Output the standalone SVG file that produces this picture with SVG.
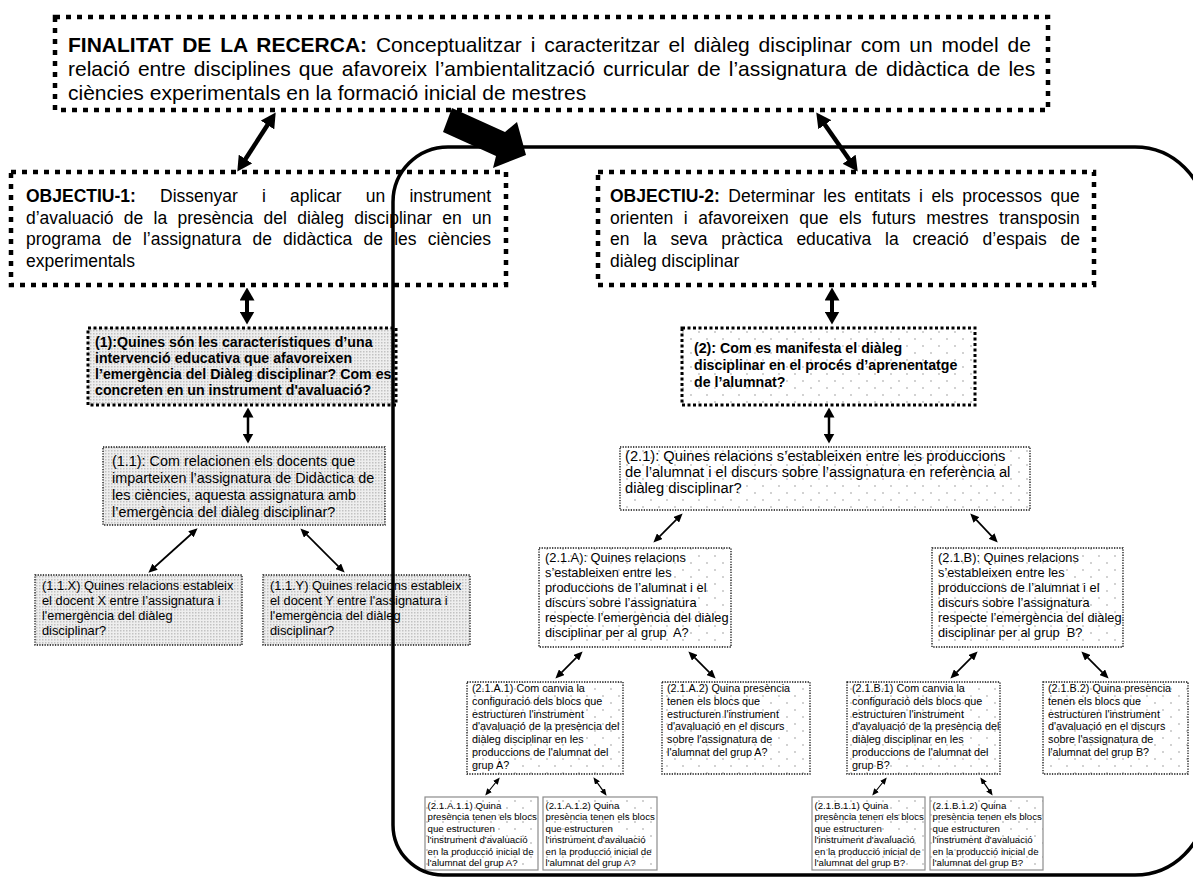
<svg xmlns="http://www.w3.org/2000/svg" width="1193" height="879" viewBox="0 0 1193 879">
<defs>
<style>
.tx{font-family:"Liberation Sans",Arial,sans-serif;fill:#000}
.b{font-weight:bold}
.f21{font-size:21px}
.f17{font-size:17.5px}
.f14b{font-size:14.2px;font-weight:bold}
.f14{font-size:14.4px}
.f147{font-size:14.7px}
.f13{font-size:12.8px}
.f11{font-size:10.8px}
.f10{font-size:9.7px}
.n-thick{fill:#fff;stroke:#000;stroke-width:4.5;stroke-dasharray:5 6}
.n-mid{stroke:#000;stroke-width:3;stroke-dasharray:3 2.5}
.n-thin{stroke:#111;stroke-width:1.3;stroke-dasharray:1.3 1.3}
.n-solid{stroke:#8c8c8c;stroke-width:1.2}
.gray{fill:url(#pGray)}
.dots{fill:url(#pDots)}
.c{fill:none;stroke:#000}
.cA{stroke-width:4.5;marker-start:url(#hA);marker-end:url(#hA)}
.cB{stroke-width:4;marker-start:url(#hB);marker-end:url(#hB)}
.cC{stroke-width:2.5;marker-start:url(#hC);marker-end:url(#hC)}
.cD{stroke-width:1.7;marker-start:url(#hD);marker-end:url(#hD)}
.cE{stroke-width:1.2;marker-start:url(#hE);marker-end:url(#hE)}
</style>
<pattern id="pGray" width="3" height="3" patternUnits="userSpaceOnUse"><rect width="3" height="3" fill="#eeeeee"/><rect width="1.5" height="1.5" fill="#c2c2c2"/></pattern>
<pattern id="pDots" width="16" height="14" patternUnits="userSpaceOnUse"><rect width="16" height="14" fill="#fff"/><circle cx="3" cy="3" r="0.9" fill="#bdbdbd"/><circle cx="11" cy="10" r="0.9" fill="#bdbdbd"/></pattern>
<marker id="hA" viewBox="0 0 15 16" refX="0.5" refY="8" markerWidth="15" markerHeight="16" markerUnits="userSpaceOnUse" orient="auto-start-reverse"><path d="M0,0 L15,8 L0,16 z"/></marker>
<marker id="hB" viewBox="0 0 13 15" refX="0.5" refY="7.5" markerWidth="13" markerHeight="15" markerUnits="userSpaceOnUse" orient="auto-start-reverse"><path d="M0,0 L13,7.5 L0,15 z"/></marker>
<marker id="hC" viewBox="0 0 10 11" refX="0.5" refY="5.5" markerWidth="10" markerHeight="11" markerUnits="userSpaceOnUse" orient="auto-start-reverse"><path d="M0,0 L10,5.5 L0,11 z"/></marker>
<marker id="hD" viewBox="0 0 9 8" refX="0.5" refY="4" markerWidth="9" markerHeight="8" markerUnits="userSpaceOnUse" orient="auto-start-reverse"><path d="M0,0 L9,4 L0,8 z"/></marker>
<marker id="hE" viewBox="0 0 7 6" refX="0.5" refY="3" markerWidth="7" markerHeight="6" markerUnits="userSpaceOnUse" orient="auto-start-reverse"><path d="M0,0 L7,3 L0,6 z"/></marker>
</defs>
<rect width="1193" height="879" fill="#fff"/>

<!-- research aim -->
<g id="n-finalitat">
<rect class="n-thick" x="55" y="17" width="993" height="93"/>
<text class="tx f21" x="68" y="52" word-spacing="3"><tspan class="b">FINALITAT DE LA RECERCA:</tspan> Conceptualitzar i caracteritzar el diàleg disciplinar com un model de</text>
<text class="tx f21" x="68" y="76" word-spacing="2.2">relació entre disciplines que afavoreix l’ambientalització curricular de l’assignatura de didàctica de les</text>
<text class="tx f21" x="68" y="100">ciències experimentals en la formació inicial de mestres</text>
</g>

<!-- objective 1 -->
<g id="n-objectiu-1">
<rect class="n-thick" x="11" y="172" width="495" height="113"/>
<text class="tx f17" x="26" y="202" word-spacing="19.3"><tspan class="b">OBJECTIU-1:</tspan> Dissenyar i aplicar un instrument</text>
<text class="tx f17" x="26" y="223.5" word-spacing="5.4">d’avaluació de la presència del diàleg disciplinar en un</text>
<text class="tx f17" x="26" y="245" word-spacing="6.4">programa de l’assignatura de didàctica de les ciències</text>
<text class="tx f17" x="26" y="266.5">experimentals</text>
</g>

<!-- objective 2 -->
<g id="n-objectiu-2">
<rect class="n-thick" x="598" y="172" width="496" height="113"/>
<text class="tx f17" x="610" y="202" word-spacing="3.6"><tspan class="b">OBJECTIU-2:</tspan> Determinar les entitats i els processos que</text>
<text class="tx f17" x="610" y="223.5" word-spacing="5.7">orienten i afavoreixen que els futurs mestres transposin</text>
<text class="tx f17" x="610" y="245" word-spacing="8.9">en la seva pràctica educativa la creació d’espais de</text>
<text class="tx f17" x="610" y="266.5">diàleg disciplinar</text>
</g>

<!-- question 1 branch -->
<g id="n-q1">
<rect class="gray n-mid" x="88" y="328" width="308" height="77"/>
<text class="tx f14b"><tspan x="95" y="347">(1):Quines són les característiques d’una</tspan><tspan x="95" y="363">intervenció educativa que afavoreixen</tspan><tspan x="95" y="379">l’emergència del Diàleg disciplinar? Com es</tspan><tspan x="95" y="395">concreten en un instrument d'avaluació?</tspan></text>
</g>
<g id="n-q1-1">
<rect class="gray n-thin" x="103" y="447" width="282" height="78"/>
<text class="tx f14"><tspan x="112" y="466">(1.1): Com relacionen els docents que</tspan><tspan x="112" y="483">imparteixen l’assignatura de Didàctica de</tspan><tspan x="112" y="500">les ciències, aquesta assignatura amb</tspan><tspan x="112" y="517">l’emergència del diàleg disciplinar?</tspan></text>
</g>
<g id="n-q1-1-x">
<rect class="gray n-thin" x="35" y="575" width="207" height="70"/>
<text class="tx f13"><tspan x="42" y="589.5">(1.1.X) Quines relacions estableix</tspan><tspan x="42" y="604.5">el docent X entre l’assignatura i</tspan><tspan x="42" y="619.5">l'emergència del diàleg</tspan><tspan x="42" y="634.5">disciplinar?</tspan></text>
</g>
<g id="n-q1-1-y">
<rect class="gray n-thin" x="263" y="575" width="207" height="70"/>
<text class="tx f13"><tspan x="270" y="589.5">(1.1.Y) Quines relacions estableix</tspan><tspan x="270" y="604.5">el docent Y entre l'assignatura i</tspan><tspan x="270" y="619.5">l'emergència del diàleg</tspan><tspan x="270" y="634.5">disciplinar?</tspan></text>
</g>

<!-- question 2 branch -->
<g id="n-q2">
<rect class="dots n-mid" x="682" y="328" width="293" height="77"/>
<text class="tx f14b"><tspan x="694" y="353">(2): Com es manifesta el diàleg</tspan><tspan x="694" y="370">disciplinar en el procés d’aprenentatge</tspan><tspan x="694" y="387">de l’alumnat?</tspan></text>
</g>
<g id="n-q2-1">
<rect class="dots n-thin" x="620" y="447" width="410" height="63"/>
<text class="tx f147"><tspan x="625" y="461">(2.1): Quines relacions s’estableixen entre les produccions</tspan><tspan x="625" y="477">de l’alumnat i el discurs sobre l’assignatura en referència al</tspan><tspan x="625" y="493">diàleg disciplinar?</tspan></text>
</g>
<g id="n-q2-1-a">
<rect class="dots n-thin" x="539" y="548" width="192" height="99"/>
<text class="tx f13"><tspan x="545" y="562">(2.1.A): Quines relacions</tspan><tspan x="545" y="577">s’estableixen entre les</tspan><tspan x="545" y="592">produccions de l’alumnat i el</tspan><tspan x="545" y="607">discurs sobre l’assignatura</tspan><tspan x="545" y="622">respecte l’emergència del diàleg</tspan><tspan x="545" y="637">disciplinar per al grup&#160; A?</tspan></text>
</g>
<g id="n-q2-1-b">
<rect class="dots n-thin" x="932" y="548" width="191" height="99"/>
<text class="tx f13"><tspan x="938" y="562">(2.1.B): Quines relacions</tspan><tspan x="938" y="577">s’estableixen entre les</tspan><tspan x="938" y="592">produccions de l’alumnat i el</tspan><tspan x="938" y="607">discurs sobre l’assignatura</tspan><tspan x="938" y="622">respecte l’emergència del diàleg</tspan><tspan x="938" y="637">disciplinar per al grup&#160; B?</tspan></text>
</g>
<g id="n-q2-1-a-1">
<rect class="dots n-thin" x="467" y="682" width="156" height="92"/>
<text class="tx f11"><tspan x="472" y="692">(2.1.A.1) Com canvia la</tspan><tspan x="472" y="704.8">configuració dels blocs que</tspan><tspan x="472" y="717.6">estructuren l'instrument</tspan><tspan x="472" y="730.4">d'avaluació de la presència del</tspan><tspan x="472" y="743.2">diàleg disciplinar en les</tspan><tspan x="472" y="756">produccions de l'alumnat del</tspan><tspan x="472" y="768.8">grup A?</tspan></text>
</g>
<g id="n-q2-1-a-2">
<rect class="dots n-thin" x="662" y="682" width="148" height="92"/>
<text class="tx f11"><tspan x="667" y="692">(2.1.A.2) Quina presència</tspan><tspan x="667" y="704.8">tenen els blocs que</tspan><tspan x="667" y="717.6">estructuren l'instrument</tspan><tspan x="667" y="730.4">d'avaluació en el discurs</tspan><tspan x="667" y="743.2">sobre l'assignatura de</tspan><tspan x="667" y="756">l'alumnat del grup A?</tspan></text>
</g>
<g id="n-q2-1-b-1">
<rect class="dots n-thin" x="847" y="682" width="153" height="92"/>
<text class="tx f11"><tspan x="852" y="692">(2.1.B.1) Com canvia la</tspan><tspan x="852" y="704.8">configuració dels blocs que</tspan><tspan x="852" y="717.6">estructuren l'instrument</tspan><tspan x="852" y="730.4">d'avaluació de la presència del</tspan><tspan x="852" y="743.2">diàleg disciplinar en les</tspan><tspan x="852" y="756">produccions de l'alumnat del</tspan><tspan x="852" y="768.8">grup B?</tspan></text>
</g>
<g id="n-q2-1-b-2">
<rect class="dots n-thin" x="1043" y="682" width="145" height="92"/>
<text class="tx f11"><tspan x="1048" y="692">(2.1.B.2) Quina presència</tspan><tspan x="1048" y="704.8">tenen els blocs que</tspan><tspan x="1048" y="717.6">estructuren l'instrument</tspan><tspan x="1048" y="730.4">d'avaluació en el discurs</tspan><tspan x="1048" y="743.2">sobre l'assignatura de</tspan><tspan x="1048" y="756">l'alumnat del grup B?</tspan></text>
</g>
<g id="n-q2-1-a-1-1">
<rect class="dots n-solid" x="425" y="797" width="113" height="73"/>
<text class="tx f10"><tspan x="427.5" y="808.5">(2.1.A.1.1) Quina</tspan><tspan x="427.5" y="820">presència tenen els blocs</tspan><tspan x="427.5" y="831.5">que estructuren</tspan><tspan x="427.5" y="843">l'instrument d'avaluació</tspan><tspan x="427.5" y="854.5">en la producció inicial de</tspan><tspan x="427.5" y="866">l'alumnat del grup A?</tspan></text>
</g>
<g id="n-q2-1-a-1-2">
<rect class="dots n-solid" x="543" y="797" width="114" height="73"/>
<text class="tx f10"><tspan x="545.5" y="808.5">(2.1.A.1.2) Quina</tspan><tspan x="545.5" y="820">presència tenen els blocs</tspan><tspan x="545.5" y="831.5">que estructuren</tspan><tspan x="545.5" y="843">l'instrument d'avaluació</tspan><tspan x="545.5" y="854.5">en la producció inicial de</tspan><tspan x="545.5" y="866">l'alumnat del grup A?</tspan></text>
</g>
<g id="n-q2-1-b-1-1">
<rect class="dots n-solid" x="812" y="797" width="113" height="73"/>
<text class="tx f10"><tspan x="814.5" y="808.5">(2.1.B.1.1) Quina</tspan><tspan x="814.5" y="820">presència tenen els blocs</tspan><tspan x="814.5" y="831.5">que estructuren</tspan><tspan x="814.5" y="843">l'instrument d'avaluació</tspan><tspan x="814.5" y="854.5">en la producció inicial de</tspan><tspan x="814.5" y="866">l'alumnat del grup B?</tspan></text>
</g>
<g id="n-q2-1-b-1-2">
<rect class="dots n-solid" x="930" y="797" width="113" height="73"/>
<text class="tx f10"><tspan x="932.5" y="808.5">(2.1.B.1.2) Quina</tspan><tspan x="932.5" y="820">presència tenen els blocs</tspan><tspan x="932.5" y="831.5">que estructuren</tspan><tspan x="932.5" y="843">l'instrument d'avaluació</tspan><tspan x="932.5" y="854.5">en la producció inicial de</tspan><tspan x="932.5" y="866">l'alumnat del grup B?</tspan></text>
</g>

<!-- two-way links -->
<g id="connectors">
<line class="c cA" x1="267.8" y1="124.6" x2="245.2" y2="159.4"/>
<line class="c cA" x1="824.6" y1="124.3" x2="849.4" y2="159.7"/>
<line class="c cB" x1="247" y1="300" x2="247" y2="312"/>
<line class="c cB" x1="832" y1="300" x2="832" y2="312"/>
<line class="c cC" x1="248" y1="417" x2="248" y2="434"/>
<line class="c cC" x1="829" y1="417" x2="829" y2="434"/>
<line class="c cD" x1="191.3" y1="534.0" x2="154.7" y2="567.0"/>
<line class="c cD" x1="306.4" y1="534.4" x2="338.6" y2="566.6"/>
<line class="c cD" x1="676.6" y1="519.4" x2="659.4" y2="536.6"/>
<line class="c cD" x1="976.1" y1="519.6" x2="991.9" y2="536.4"/>
<line class="c cD" x1="576.6" y1="657.4" x2="561.4" y2="672.6"/>
<line class="c cD" x1="694.4" y1="657.4" x2="709.6" y2="672.6"/>
<line class="c cD" x1="971.6" y1="657.4" x2="956.4" y2="672.6"/>
<line class="c cD" x1="1087.4" y1="657.4" x2="1102.6" y2="672.6"/>
<line class="c cE" x1="495.7" y1="782.5" x2="489.3" y2="790.5"/>
<line class="c cE" x1="597.2" y1="782.6" x2="602.8" y2="790.4"/>
<line class="c cE" x1="882.7" y1="782.5" x2="876.3" y2="790.5"/>
<line class="c cE" x1="984.0" y1="782.8" x2="989.0" y2="790.2"/>
</g>

<!-- frame grouping the second objective -->
<g id="frame-objectiu-2">
<path d="M443,875 H1135 A70,70 0 0 0 1205,805 V217 A70,70 0 0 0 1135,147 H448 A55,55 0 0 0 393,202 V825 A50,50 0 0 0 443,875 Z" fill="none" stroke="#000" stroke-width="3.5"/>
</g>

<!-- block arrow from the aim into the frame -->
<g id="focus-arrow">
<polygon points="452,108 505,132 517,122 526,155 493,168 496,156 443,132" fill="#000"/>
</g>
</svg>
